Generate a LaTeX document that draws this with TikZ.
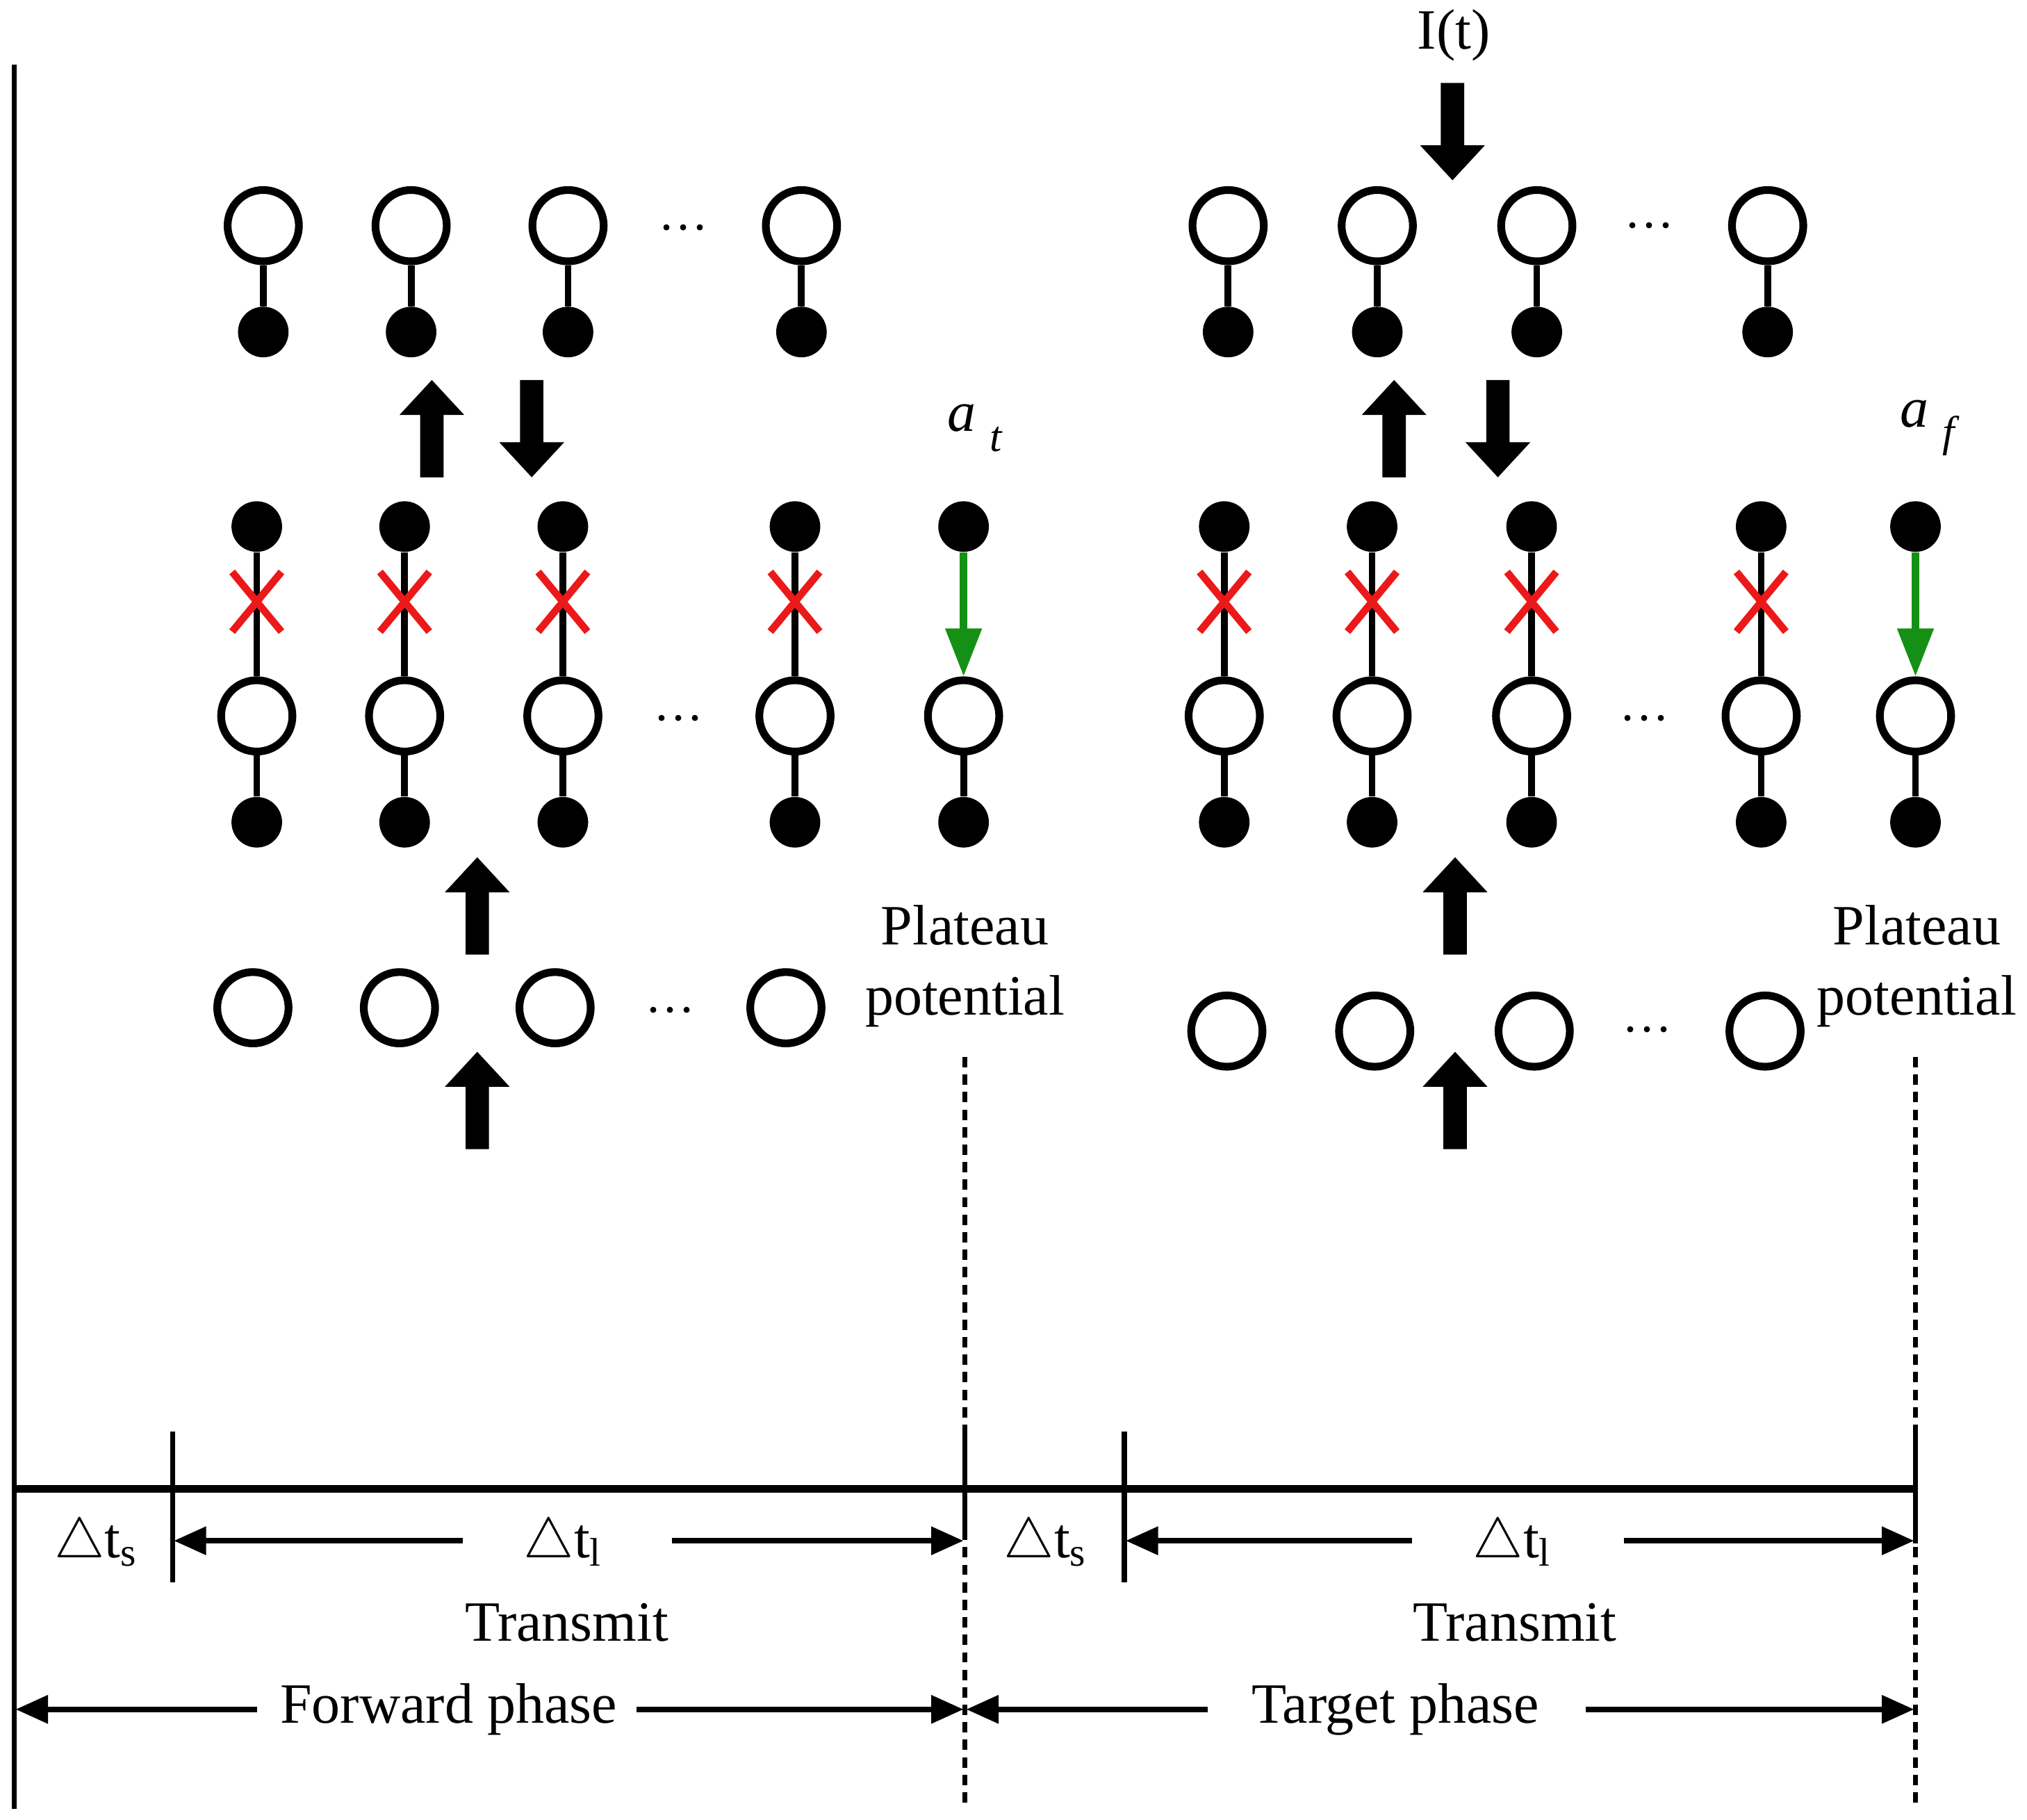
\documentclass[tikz,border=0pt]{standalone}
\usepackage{fontspec}
\setmainfont{Liberation Serif}
\usetikzlibrary{arrows.meta,calc}
\definecolor{xred}{RGB}{235,25,25}
\definecolor{agreen}{RGB}{20,145,20}
\begin{document}
\begin{tikzpicture}[x=0.02cm,y=-0.02cm,
  every node/.style={font=\fontsize{25}{31}\selectfont},
  soma/.style={circle,draw,line width=3.4pt,minimum size=1.1cm,inner sep=0pt},
  syn/.style={circle,fill,minimum size=0.78cm,inner sep=0pt},
  stem/.style={line width=3pt},
  cross/.style={draw=xred,line width=3.2pt},
  excite/.style={draw=agreen,line width=3.2pt,-{Triangle[length=0.74cm,width=0.54cm]}},
  dim/.style={line width=2.6pt,-{Triangle[length=0.5cm,width=0.42cm]}},
  thinline/.style={line width=2.2pt},
  dashv/.style={line width=2.2pt,dash pattern=on 0.16cm off 0.11cm},
  dotsnode/.style={font=\fontsize{22}{26}\selectfont,inner sep=0pt},
  uparr/.pic={\fill (0,0) -- (25,27) -- (9,27) -- (9,75) -- (-9,75) -- (-9,27) -- (-25,27) -- cycle;},
  downarr/.pic={\fill (0,0) -- (25,-27) -- (9,-27) -- (9,-75) -- (-9,-75) -- (-9,-27) -- (-25,-27) -- cycle;},
  xmark/.pic={\draw[cross] (-19,-23) -- (19,23) (-19,23) -- (19,-23);}
]
\useasboundingbox (0,0) rectangle (1563,1402.8);

% ---------------- left group ----------------
\foreach \x [count=\i] in {203,317,438,618} {
  \node[soma] (lt\i) at (\x,174) {};
  \node[syn] (lts\i) at (\x,256) {};
  \draw[stem] (lt\i) -- (lts\i);
}
\node[dotsnode] (ldt) at (527,181) {···};

\pic at (333,293) {uparr};
\pic at (410,368) {downarr};

\foreach \x [count=\i] in {198,312,434,613} {
  \node[syn] (lma\i) at (\x,406) {};
  \node[soma] (lm\i) at (\x,552) {};
  \node[syn] (lmb\i) at (\x,634) {};
  \draw[stem] (lma\i) -- (lm\i);
  \draw[stem] (lm\i) -- (lmb\i);
  \pic at (\x,464) {xmark};
}
\node[syn] (lma5) at (743,406) {};
\node[soma] (lm5) at (743,552) {};
\node[syn] (lmb5) at (743,634) {};
\draw[excite] (lma5) -- (lm5);
\draw[stem] (lm5) -- (lmb5);
\node[dotsnode] (ldm) at (523,559) {···};
\node (at) at (752,330) {\textit{a}\hspace{0.25em}\raisebox{-0.35em}{\fontsize{19}{22}\selectfont\textit{t}}};

\pic at (368,661) {uparr};
\foreach \x [count=\i] in {195,308,428,606} {
  \node[soma] (lb\i) at (\x,777) {};
}
\node[dotsnode] (ldb) at (517,784) {···};
\pic at (368,811) {uparr};
\node[align=center] (lpp) at (744,745) {Plateau\\potential};

% ---------------- right group ----------------
\node (it) at (1121,27) {I(t)};
\pic at (1120,139) {downarr};
\foreach \x [count=\i] in {947,1062,1185,1363} {
  \node[soma] (rt\i) at (\x,174) {};
  \node[syn] (rts\i) at (\x,256) {};
  \draw[stem] (rt\i) -- (rts\i);
}
\node[dotsnode] (rdt) at (1272,179) {···};

\pic at (1075,293) {uparr};
\pic at (1155,368) {downarr};

\foreach \x [count=\i] in {944,1058,1181,1358} {
  \node[syn] (rma\i) at (\x,406) {};
  \node[soma] (rm\i) at (\x,552) {};
  \node[syn] (rmb\i) at (\x,634) {};
  \draw[stem] (rma\i) -- (rm\i);
  \draw[stem] (rm\i) -- (rmb\i);
  \pic at (\x,464) {xmark};
}
\node[syn] (rma5) at (1477,406) {};
\node[soma] (rm5) at (1477,552) {};
\node[syn] (rmb5) at (1477,634) {};
\draw[excite] (rma5) -- (rm5);
\draw[stem] (rm5) -- (rmb5);
\node[dotsnode] (rdm) at (1268,559) {···};
\node (af) at (1488,330) {\textit{a}\hspace{0.25em}\raisebox{-0.35em}{\fontsize{19}{22}\selectfont\textit{f}}};

\pic at (1122,661) {uparr};
\foreach \x [count=\i] in {946,1060,1183,1361} {
  \node[soma] (rb\i) at (\x,795) {};
}
\node[dotsnode] (rdb) at (1270,799) {···};
\pic at (1122,811) {uparr};
\node[align=center] (rpp) at (1478,745) {Plateau\\potential};

% ---------------- timeline ----------------
\coordinate (vtop) at (11,50);
\coordinate (vbot) at (11,1395);
\draw[thinline] (vtop) -- (vbot);
\coordinate (tl0) at (11,1148);
\coordinate (tl1) at (1477,1148);
\draw[line width=3.4pt] (tl0) -- (tl1);

\coordinate (k1a) at (133,1104); \coordinate (k1b) at (133,1220);
\coordinate (k2a) at (867,1104); \coordinate (k2b) at (867,1220);
\coordinate (k3a) at (744,1104); \coordinate (k3b) at (744,1180);
\coordinate (k4a) at (1477,1104); \coordinate (k4b) at (1477,1190);
\draw[thinline] (k1a) -- (k1b);
\draw[thinline] (k2a) -- (k2b);
\draw[thinline] (k3a) -- (k3b);
\draw[thinline] (k4a) -- (k4b);

\coordinate (d1a) at (744,815); \coordinate (d1b) at (744,1392);
\coordinate (d2a) at (1477,815); \coordinate (d2b) at (1477,1392);
\draw[dashv] (d1a) -- (d1b);
\draw[dashv] (d2a) -- (d2b);

\node (ts1) at (74,1190) {$\triangle$t\textsubscript{s}};
\node (ts2) at (806,1190) {$\triangle$t\textsubscript{s}};
\node (tl1lbl) at (434,1190) {$\triangle$t\textsubscript{l}};
\node (tl2lbl) at (1166,1190) {$\triangle$t\textsubscript{l}};

\coordinate (a1s) at (357,1188); \coordinate (a1e) at (134,1188);
\coordinate (a2s) at (518,1188); \coordinate (a2e) at (743,1188);
\coordinate (a3s) at (1089,1188); \coordinate (a3e) at (868,1188);
\coordinate (a4s) at (1252,1188); \coordinate (a4e) at (1476,1188);
\draw[dim] (a1s) -- (a1e);
\draw[dim] (a2s) -- (a2e);
\draw[dim] (a3s) -- (a3e);
\draw[dim] (a4s) -- (a4e);

\node (tr1) at (437,1251) {Transmit};
\node (tr2) at (1168,1251) {Transmit};

\node (fp) at (346,1318) {Forward phase};
\node (tp) at (1076,1318) {Target phase};
\coordinate (b1s) at (198,1318); \coordinate (b1e) at (12,1318);
\coordinate (b2s) at (491,1318); \coordinate (b2e) at (743,1318);
\coordinate (b3s) at (931,1318); \coordinate (b3e) at (745,1318);
\coordinate (b4s) at (1223,1318); \coordinate (b4e) at (1476,1318);
\draw[dim] (b1s) -- (b1e);
\draw[dim] (b2s) -- (b2e);
\draw[dim] (b3s) -- (b3e);
\draw[dim] (b4s) -- (b4e);
\end{tikzpicture}
\end{document}
